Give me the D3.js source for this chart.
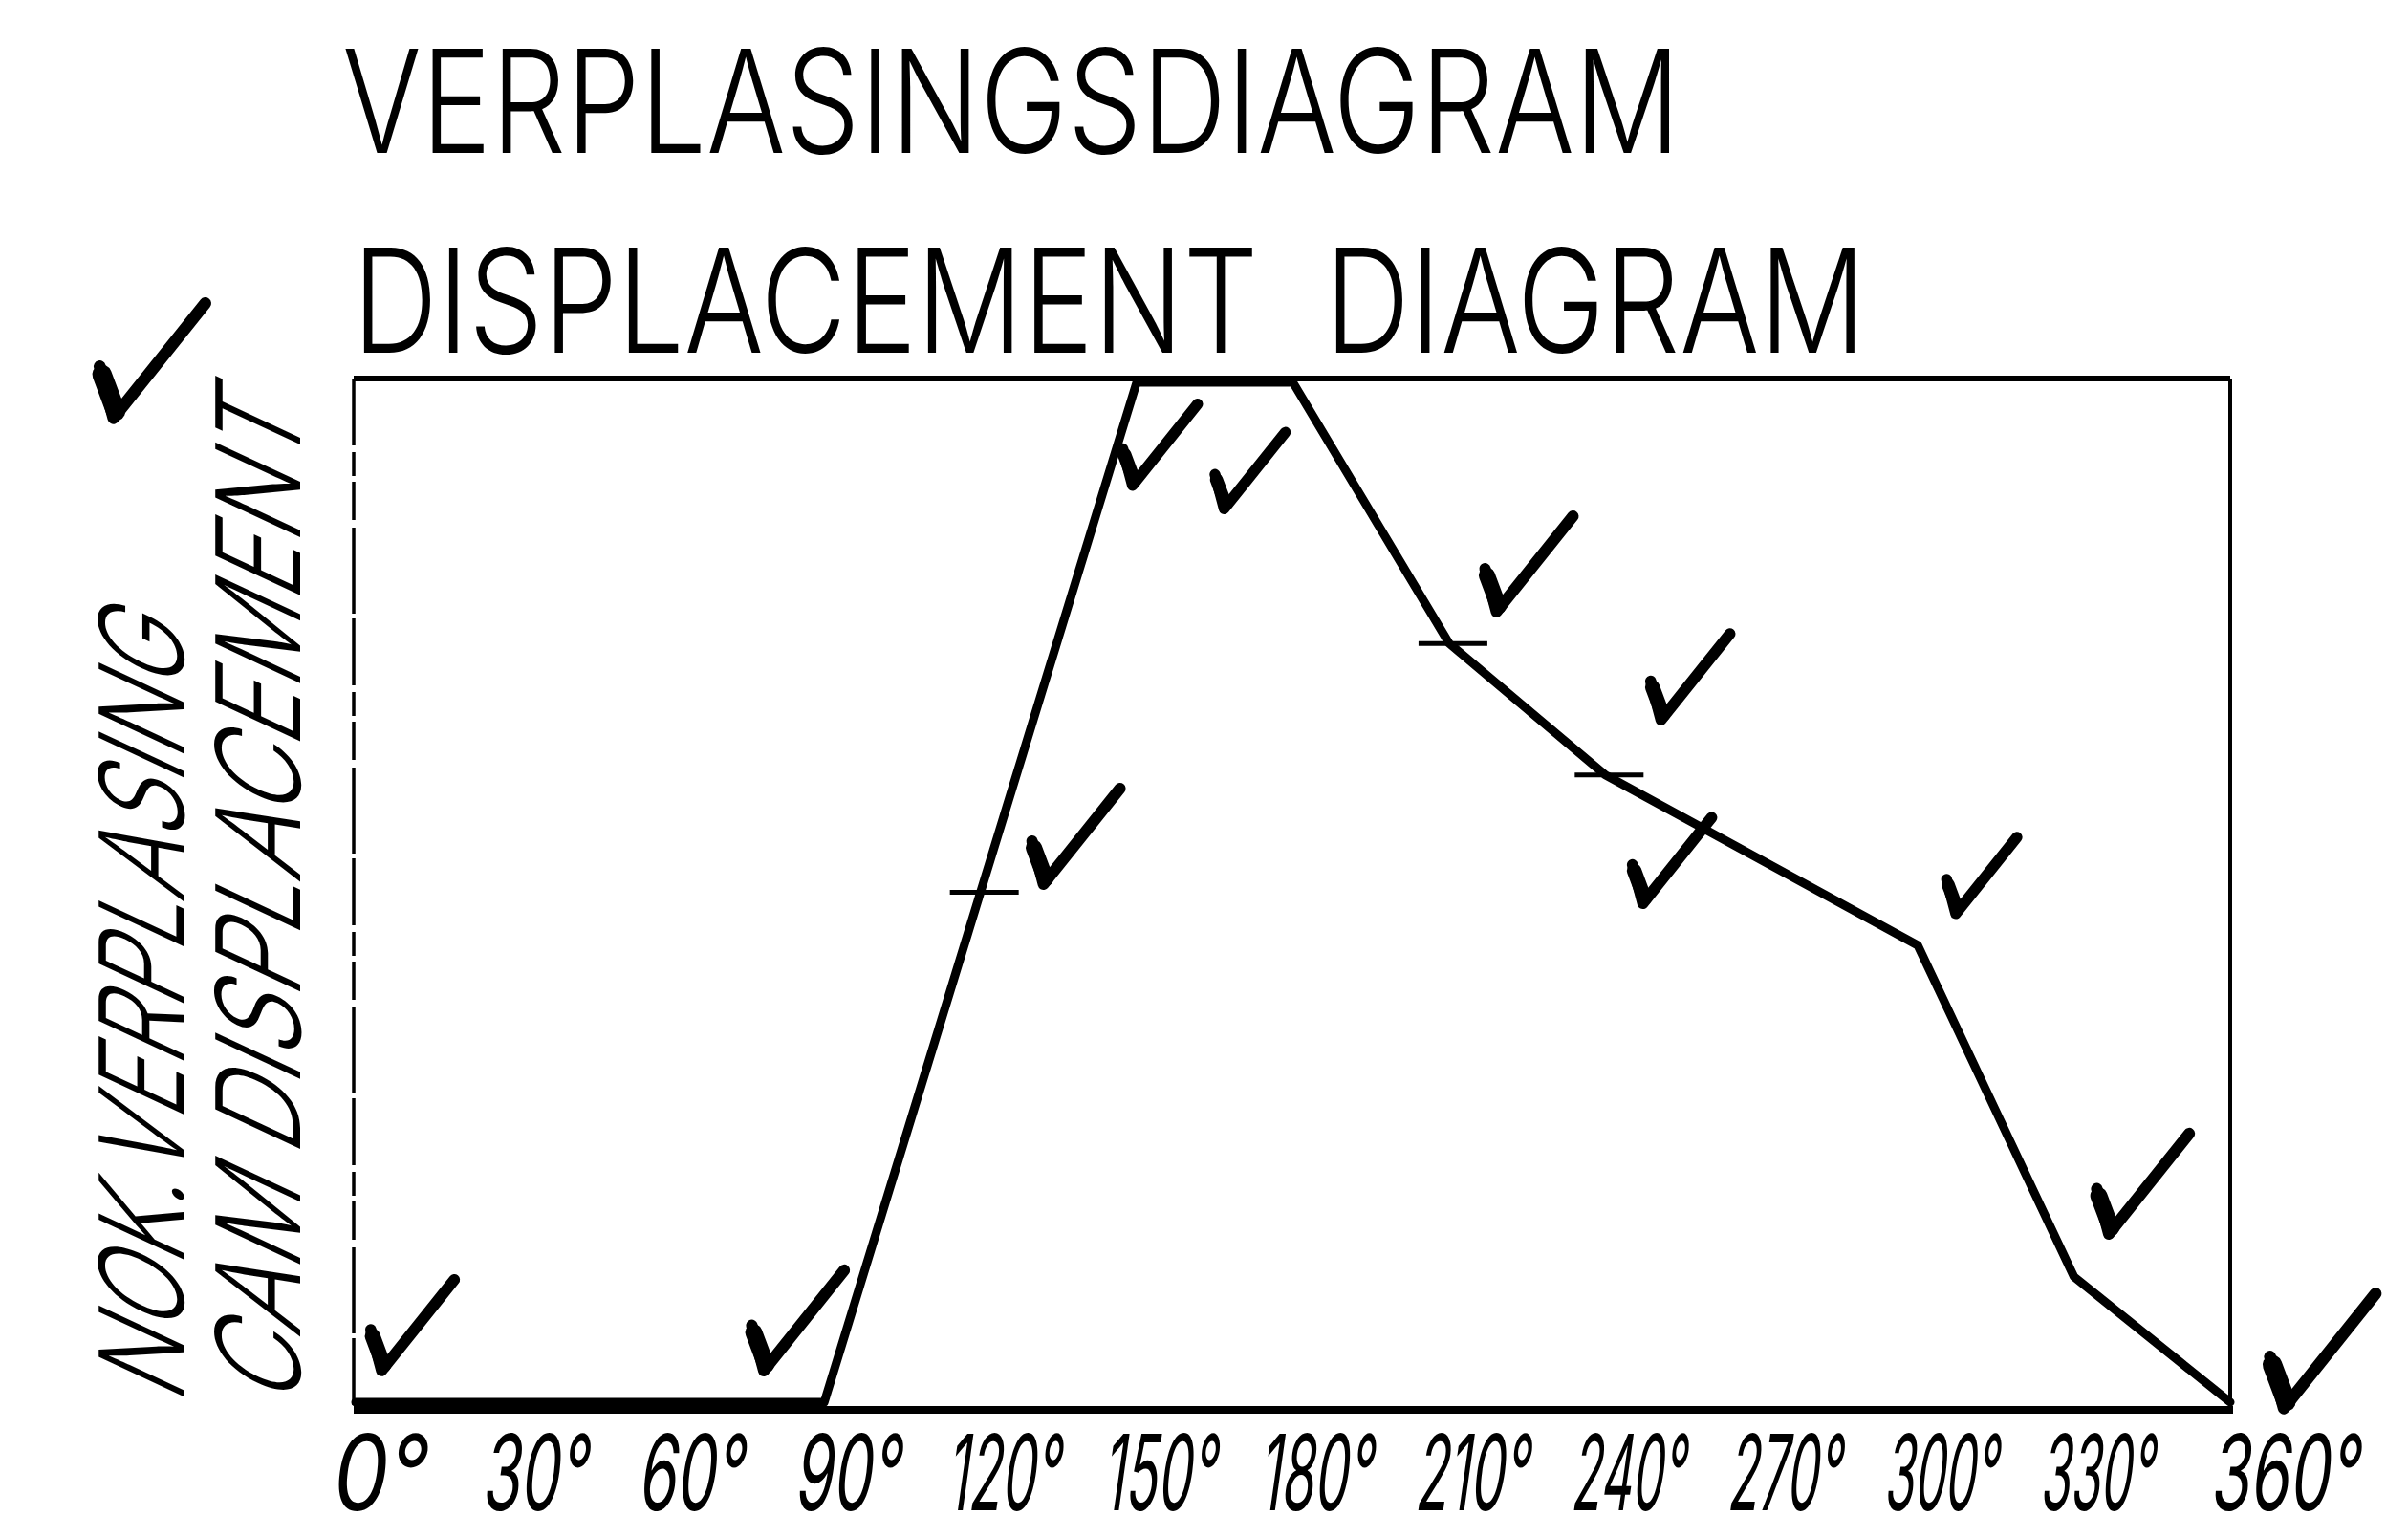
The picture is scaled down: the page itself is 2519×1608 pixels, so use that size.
<!DOCTYPE html>
<html>
<head>
<meta charset="utf-8">
<script src="https://cdn.jsdelivr.net/npm/d3@7"></script>
<style>
  html, body { margin: 0; padding: 0; background: #ffffff; }
  svg { display: block; }
</style>
</head>
<body>
<svg id="chart" width="2519" height="1608"></svg>
<script>
// ---------------- data ----------------
const titleLines = ["VERPLASINGSDIAGRAM", "DISPLACEMENT\u00A0\u00A0DIAGRAM"];
const yLabels = ["NOK.VERPLASING", "CAM DISPLACEMENT"];

// cam angle (degrees) and follower displacement (% of maximum lift)
const angles       = [0, 90, 120, 150, 180, 210,  240,  300,  330, 360];
const displacement = [0,  0,  50, 100, 100, 74.4, 61.5, 44.8, 12.3,  0];

// construction ticks marked on the curve
const markerAngles = [120, 210, 240];

// x-axis ticks
const angleTicks = [0, 30, 60, 90, 120, 150, 180, 210, 240, 270, 300, 330, 360];
const tickLabels = angleTicks.map(d => d + "\u00B0");

// marker's check marks (vertex position in data units)
const checkAngles = [-46.5, 5.0, 78.4, 149.2, 166.8, 219.1, 250.7, 132.1, 247.2, 307.3, 336.7, 370.3];
const checkDisp   = [ 96.5, 3.1,  3.1,  89.9,  87.6,  77.5,  66.9,  50.8,  48.9,  47.9,  16.5,  -0.6];
const checkScale  = [ 1.2, 0.95, 1.05,  0.85,  0.8,   1.0,   0.9,   1.0,   0.9,   0.8,   1.05,  1.2];

// ---------------- layout ----------------
const frame = { left: 370, right: 2333, top: 396, bottom: 1475 };

const svg = d3.select("#chart");

const x = d3.scaleLinear().domain([0, 360]).range([372, 2333]);
const y = d3.scaleLinear().domain([0, 100]).range([1467, 400]);

const ink = "#000000";
const fontMain = "Inter, 'Open Sans', Lato, 'DejaVu Sans', sans-serif";

// helper: squeeze a text horizontally (in its own frame) to a target width
function fitText(sel, targetWidth, prefix) {
  sel.each(function () {
    const w = this.getComputedTextLength();
    const sx = w > 0 ? targetWidth / w : 1;
    d3.select(this).attr("transform", `${prefix} scale(${sx},1)`);
  });
}

// ---------------- titles ----------------
const t1 = svg.append("text")
  .attr("x", 0).attr("y", 0)
  .attr("font-family", fontMain).attr("font-weight", 300)
  .attr("font-size", 150).attr("fill", ink)
  .text(titleLines[0]);
fitText(t1, 1400, "translate(358,160)");

const t2 = svg.append("text")
  .attr("x", 0).attr("y", 0)
  .attr("font-family", fontMain).attr("font-weight", 300)
  .attr("font-size", 151).attr("fill", ink)
  .text(titleLines[1]);
fitText(t2, 1583, "translate(369,369)");

// ---------------- y labels (rotated, slanted hand lettering) ----------------
const yl1 = svg.append("text")
  .attr("x", 0).attr("y", 0)
  .attr("font-family", fontMain).attr("font-weight", 300)
  .attr("font-size", 122).attr("fill", ink)
  .text(yLabels[0]);
fitText(yl1, 815, "translate(192,1470) rotate(-90) skewX(-25)");

const yl2 = svg.append("text")
  .attr("x", 0).attr("y", 0)
  .attr("font-family", fontMain).attr("font-weight", 300)
  .attr("font-size", 122).attr("fill", ink)
  .text(yLabels[1]);
fitText(yl2, 1045, "translate(314,1474) rotate(-90) skewX(-25)");

// ---------------- frame ----------------
const frameG = svg.append("g").attr("stroke", ink).attr("fill", "none");
frameG.append("line")
  .attr("x1", frame.left).attr("x2", frame.left)
  .attr("y1", frame.top).attr("y2", frame.bottom)
  .attr("stroke-width", 3.5).attr("stroke-dasharray", "70,7,25,6,40,8,90,5");
frameG.append("line")
  .attr("x1", frame.left).attr("x2", frame.right)
  .attr("y1", frame.top).attr("y2", frame.top)
  .attr("stroke-width", 6);
frameG.append("line")
  .attr("x1", frame.right).attr("x2", frame.right)
  .attr("y1", frame.top).attr("y2", frame.bottom)
  .attr("stroke-width", 4);
frameG.append("line")
  .attr("x1", frame.left).attr("x2", frame.right + 3)
  .attr("y1", frame.bottom).attr("y2", frame.bottom)
  .attr("stroke-width", 8);

// ---------------- x axis ----------------
const xAxis = d3.axisBottom(x)
  .tickValues(angleTicks)
  .tickSize(0)
  .tickFormat(d => tickLabels[angleTicks.indexOf(d)]);

const axisG = svg.append("g")
  .attr("transform", `translate(0,${frame.bottom})`)
  .call(xAxis);
axisG.select(".domain").remove();
const lastIdx = angleTicks.length - 1;
axisG.selectAll(".tick text")
  .attr("x", 0).attr("y", 0).attr("dy", 0)
  .attr("fill", ink)
  .attr("text-anchor", "middle")
  .style("font-family", fontMain)
  .style("font-weight", 400)
  .style("font-size", "110px")
  .each(function (d) {
    const i = angleTicks.indexOf(d);
    const n = tickLabels[i].length;
    const target = i === lastIdx ? 155 : (n === 2 ? 100 : n === 3 ? 110 : 118);
    const dx = i === lastIdx ? 55 : 22;
    const w = this.getComputedTextLength();
    const sx = w > 0 ? target / w : 1;
    d3.select(this).attr("transform",
      `translate(${dx},105) skewX(-8) scale(${sx},1)`);
  });

// ---------------- displacement curve ----------------
const pts = angles.map((a, i) => [a, displacement[i]]);
const line = d3.line().x(d => x(d[0])).y(d => y(d[1]));

svg.append("path")
  .datum(pts)
  .attr("d", line)
  .attr("fill", "none")
  .attr("stroke", ink)
  .attr("stroke-width", 9)
  .attr("stroke-linejoin", "round")
  .attr("stroke-linecap", "round");

// construction tick marks on the curve
svg.append("g").selectAll("line.marker")
  .data(markerAngles)
  .join("line")
  .attr("class", "marker")
  .attr("x1", a => x(a) - 32)
  .attr("x2", a => x(a) + 40)
  .attr("y1", a => y(displacement[angles.indexOf(a)]))
  .attr("y2", a => y(displacement[angles.indexOf(a)]))
  .attr("stroke", ink)
  .attr("stroke-width", 5);

// ---------------- check marks ----------------
const checkG = svg.append("g")
  .attr("fill", "none").attr("stroke", ink)
  .attr("stroke-linecap", "round").attr("stroke-linejoin", "round");

checkAngles.forEach((a, i) => {
  const vx = x(a), vy = y(checkDisp[i]);
  const h = 100 * checkScale[i];
  const p = d3.path();
  p.moveTo(vx - 0.12 * h, vy - 0.45 * h);
  p.lineTo(vx, vy);
  p.lineTo(vx + 0.8 * h, vy - h);
  checkG.append("path")
    .attr("d", p.toString())
    .attr("stroke-width", 9 + 3 * checkScale[i]);
  // heavier short stroke, like a pen pressing down
  const q = d3.path();
  q.moveTo(vx - 0.1 * h, vy - 0.38 * h);
  q.lineTo(vx + 0.02 * h, vy - 0.06 * h);
  checkG.append("path")
    .attr("d", q.toString())
    .attr("stroke-width", 17 * checkScale[i]);
});
</script>
</body>
</html>
